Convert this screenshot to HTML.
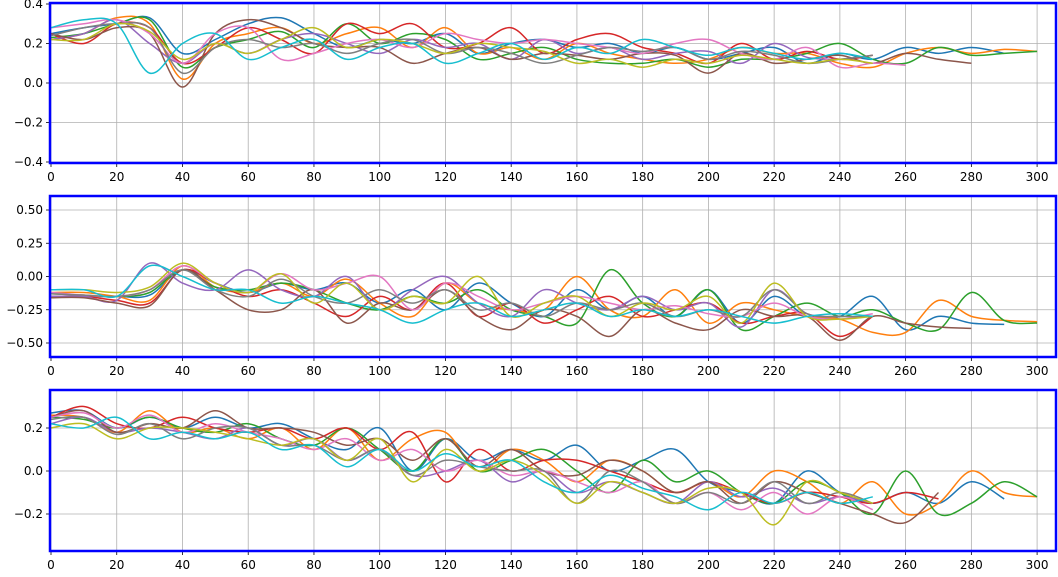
<!DOCTYPE html>
<html><head><meta charset="utf-8"><style>
body{margin:0;background:#fff;}
svg text{font-family:"DejaVu Sans","Liberation Sans",sans-serif;font-size:12px;fill:#000;}
</style></head><body>
<svg id="chart" width="1058" height="572" xmlns="http://www.w3.org/2000/svg"></svg>
<script>
const colors=["#1f77b4","#ff7f0e","#2ca02c","#d62728","#9467bd","#8c564b","#e377c2","#7f7f7f","#bcbd22","#17becf"];
const xTicks=[0,20,40,60,80,100,120,140,160,180,200,220,240,260,280,300];
const p1Ticks=[0.4,0.2,0.0,-0.2,-0.4];
const p2Ticks=[0.5,0.25,0,-0.25,-0.5];
const p3Ticks=[0.2,0.0,-0.2];
const p1Labels=["0.4","0.2","0.0","\u22120.2","\u22120.4"];
const p2Labels=["0.50","0.25","0.00","\u22120.25","\u22120.50"];
const p3Labels=["0.2","0.0","\u22120.2"];
const p1Series=[
[0.25,0.28,0.30,0.33,0.15,0.22,0.30,0.33,0.25,0.18,0.22,0.20,0.25,0.15,0.20,0.22,0.18,0.20,0.15,0.18,0.12,0.15,0.18,0.10,0.15,0.12,0.18,0.15,0.18,0.15],
[0.22,0.25,0.33,0.30,0.02,0.20,0.25,0.28,0.20,0.25,0.28,0.18,0.28,0.15,0.18,0.12,0.20,0.15,0.12,0.10,0.12,0.18,0.15,0.15,0.10,0.08,0.15,0.18,0.15,0.17,0.16],
[0.23,0.25,0.30,0.32,0.08,0.18,0.22,0.26,0.18,0.30,0.20,0.25,0.22,0.12,0.15,0.18,0.12,0.10,0.10,0.12,0.08,0.12,0.12,0.15,0.20,0.12,0.10,0.18,0.14,0.15,0.16],
[0.25,0.20,0.30,0.28,0.10,0.18,0.28,0.22,0.15,0.30,0.25,0.30,0.18,0.20,0.28,0.15,0.22,0.25,0.18,0.15,0.10,0.20,0.12,0.16,0.12,0.14],
[0.22,0.25,0.32,0.20,0.10,0.20,0.15,0.22,0.25,0.20,0.15,0.22,0.18,0.20,0.12,0.22,0.15,0.18,0.12,0.15,0.16,0.10,0.20,0.13,0.12],
[0.25,0.22,0.28,0.25,-0.02,0.25,0.32,0.28,0.20,0.18,0.18,0.10,0.15,0.18,0.12,0.15,0.14,0.12,0.15,0.14,0.05,0.15,0.10,0.12,0.14,0.10,0.15,0.12,0.10],
[0.28,0.30,0.32,0.25,0.10,0.25,0.28,0.12,0.15,0.20,0.22,0.18,0.25,0.22,0.20,0.22,0.20,0.18,0.15,0.20,0.22,0.15,0.12,0.18,0.08,0.10,0.09],
[0.24,0.28,0.30,0.28,0.05,0.18,0.22,0.18,0.20,0.15,0.20,0.22,0.15,0.18,0.15,0.10,0.14,0.18,0.16,0.18,0.12,0.16,0.14,0.10,0.12,0.14],
[0.22,0.22,0.30,0.26,0.12,0.20,0.15,0.22,0.28,0.18,0.22,0.20,0.15,0.20,0.18,0.16,0.10,0.12,0.08,0.12,0.10,0.14,0.12,0.10,0.12,0.10],
[0.28,0.32,0.30,0.05,0.20,0.25,0.12,0.18,0.22,0.12,0.18,0.20,0.10,0.15,0.20,0.12,0.18,0.15,0.22,0.18,0.14,0.18,0.15,0.12,0.15,0.12]];
const p2Series=[
[-0.15,-0.15,-0.15,-0.14,0.05,-0.05,-0.12,-0.05,-0.10,-0.05,-0.20,-0.10,-0.25,-0.05,-0.20,-0.30,-0.10,-0.25,-0.15,-0.30,-0.10,-0.35,-0.15,-0.30,-0.30,-0.15,-0.40,-0.30,-0.35,-0.36],
[-0.12,-0.12,-0.15,-0.18,0.08,-0.08,-0.12,-0.05,-0.15,-0.02,-0.20,-0.30,-0.05,-0.20,-0.25,-0.25,0.00,-0.25,-0.30,-0.10,-0.35,-0.20,-0.25,-0.30,-0.32,-0.42,-0.42,-0.18,-0.30,-0.33,-0.34],
[-0.13,-0.14,-0.15,-0.12,0.05,-0.08,-0.10,-0.05,-0.10,-0.20,-0.25,-0.15,-0.20,-0.10,-0.25,-0.30,-0.35,0.05,-0.20,-0.30,-0.10,-0.40,-0.30,-0.20,-0.30,-0.25,-0.35,-0.40,-0.12,-0.33,-0.35],
[-0.15,-0.15,-0.18,-0.20,0.05,-0.05,-0.15,-0.10,-0.20,-0.30,-0.15,-0.25,-0.05,-0.30,-0.20,-0.35,-0.25,-0.15,-0.30,-0.25,-0.20,-0.35,-0.30,-0.28,-0.45,-0.30],
[-0.15,-0.15,-0.18,0.10,-0.05,-0.10,0.05,-0.10,-0.15,0.00,-0.25,-0.10,0.00,-0.20,-0.30,-0.10,-0.20,-0.25,-0.15,-0.25,-0.20,-0.38,-0.10,-0.28,-0.30],
[-0.16,-0.16,-0.20,-0.22,0.05,-0.10,-0.25,-0.25,-0.10,-0.35,-0.20,-0.25,-0.10,-0.30,-0.40,-0.25,-0.30,-0.45,-0.25,-0.35,-0.40,-0.25,-0.30,-0.30,-0.48,-0.30,-0.35,-0.38,-0.39],
[-0.12,-0.14,-0.15,-0.10,0.08,-0.05,-0.12,0.02,-0.10,-0.05,0.00,-0.25,-0.05,-0.15,-0.25,-0.20,-0.15,-0.20,-0.25,-0.22,-0.28,-0.30,-0.20,-0.30,-0.32,-0.28],
[-0.13,-0.14,-0.15,-0.10,0.05,-0.10,-0.15,-0.02,-0.15,-0.20,-0.10,-0.20,-0.10,-0.25,-0.20,-0.30,-0.20,-0.25,-0.20,-0.30,-0.25,-0.30,-0.10,-0.28,-0.30,-0.30],
[-0.10,-0.10,-0.12,-0.08,0.10,-0.05,-0.12,0.02,-0.20,-0.05,-0.25,-0.15,-0.20,0.00,-0.30,-0.20,-0.15,-0.30,-0.20,-0.25,-0.15,-0.35,-0.05,-0.30,-0.32,-0.30],
[-0.10,-0.10,-0.15,0.08,0.00,-0.10,-0.10,-0.20,-0.15,-0.20,-0.25,-0.35,-0.25,-0.20,-0.30,-0.25,-0.20,-0.30,-0.25,-0.30,-0.25,-0.30,-0.35,-0.30,-0.28,-0.30]];
const p3Series=[
[0.27,0.28,0.20,0.25,0.20,0.25,0.20,0.22,0.15,0.10,0.20,0.00,0.15,0.05,0.10,0.05,0.12,0.00,0.05,0.10,-0.05,-0.10,-0.15,0.00,-0.10,-0.15,-0.10,-0.15,-0.05,-0.13],
[0.26,0.25,0.18,0.28,0.18,0.20,0.15,0.20,0.10,0.20,0.05,0.15,0.18,0.00,0.10,0.05,-0.05,0.05,0.00,-0.10,-0.05,-0.12,0.00,-0.05,-0.15,-0.05,-0.20,-0.15,0.00,-0.10,-0.12],
[0.25,0.24,0.20,0.25,0.20,0.18,0.22,0.15,0.12,0.20,0.10,0.00,0.15,0.00,0.05,0.10,0.00,-0.10,0.05,-0.05,0.00,-0.10,-0.15,-0.05,-0.10,-0.20,0.00,-0.20,-0.15,-0.05,-0.12],
[0.25,0.30,0.22,0.20,0.25,0.20,0.18,0.20,0.15,0.20,0.10,0.18,-0.05,0.10,0.00,0.05,0.05,0.00,-0.05,-0.10,-0.05,-0.10,-0.15,-0.10,-0.12,-0.15,-0.10,-0.13],
[0.22,0.25,0.18,0.20,0.18,0.15,0.20,0.12,0.15,0.05,0.10,-0.02,0.00,0.05,-0.05,0.00,-0.10,-0.05,-0.10,-0.15,-0.05,-0.12,-0.08,-0.15,-0.12,-0.15],
[0.25,0.28,0.18,0.22,0.20,0.28,0.20,0.20,0.18,0.12,0.15,0.05,0.15,0.02,0.10,0.00,-0.02,0.05,0.00,-0.10,-0.05,-0.15,-0.05,-0.10,-0.15,-0.20,-0.24,-0.10],
[0.25,0.27,0.20,0.26,0.18,0.22,0.18,0.15,0.10,0.15,0.05,0.10,0.00,0.05,-0.02,0.00,-0.05,-0.10,-0.05,-0.15,-0.10,-0.18,-0.10,-0.20,-0.12,-0.18],
[0.24,0.25,0.17,0.22,0.15,0.20,0.20,0.12,0.12,0.05,0.10,-0.02,0.05,0.02,0.00,0.00,-0.15,0.00,-0.05,-0.15,-0.10,-0.15,-0.05,-0.15,-0.10,-0.15],
[0.20,0.22,0.15,0.20,0.20,0.18,0.15,0.12,0.15,0.05,0.15,-0.05,0.10,0.00,0.05,-0.02,-0.15,-0.05,-0.10,-0.15,-0.08,-0.10,-0.25,-0.05,-0.10,-0.15],
[0.22,0.20,0.25,0.15,0.18,0.15,0.18,0.10,0.12,0.02,0.10,0.00,0.08,0.02,0.05,-0.05,-0.10,-0.02,-0.08,-0.12,-0.18,-0.10,-0.15,-0.10,-0.15,-0.12]];
const xStep=10;

const NS="http://www.w3.org/2000/svg";
const svg=document.getElementById('chart');
function mk(tag,attrs,parent){const e=document.createElementNS(NS,tag);for(const k in attrs)e.setAttribute(k,attrs[k]);(parent||svg).appendChild(e);return e;}
const X0=51,XS=3.287,FL=50,FR=1056;
const xScale=v=>X0+v*XS;
const panels=[
 {top:3,bot:163,y0:83,ys:197.5,ticks:p1Ticks,labels:p1Labels,series:p1Series,name:'top'},
 {top:196,bot:357,y0:276.5,ys:133,ticks:p2Ticks,labels:p2Labels,series:p2Series,name:'middle'},
 {top:390,bot:551,y0:471,ys:215,ticks:p3Ticks,labels:p3Labels,series:p3Series,name:'bottom'}];
function smoothPath(pts){
 let d=`M${pts[0][0]},${pts[0][1]}`;
 for(let i=0;i<pts.length-1;i++){
  const p0=pts[i-1]||pts[i],p1=pts[i],p2=pts[i+1],p3=pts[i+2]||p2;
  const c1=[p1[0]+(p2[0]-p0[0])/6,p1[1]+(p2[1]-p0[1])/6];
  const c2=[p2[0]-(p3[0]-p1[0])/6,p2[1]-(p3[1]-p1[1])/6];
  d+=` C${c1[0].toFixed(1)},${c1[1].toFixed(1)} ${c2[0].toFixed(1)},${c2[1].toFixed(1)} ${p2[0].toFixed(1)},${p2[1].toFixed(1)}`;
 }
 return d;
}
panels.forEach(p=>{
 const g=mk('g',{});
 
 
 const yScale=v=>p.y0-v*p.ys;
 const clipId='clip-'+p.name;
 const cp=mk('clipPath',{id:clipId},g);
 mk('rect',{x:FL,y:p.top,width:FR-FL,height:p.bot-p.top},cp);
 xTicks.forEach(t=>{
  const x=xScale(t);
  const l=mk('line',{x1:x,x2:x,y1:p.top,y2:p.bot,stroke:'#b0b0b0','stroke-width':0.8},g);
  
  
  mk('line',{x1:x,x2:x,y1:p.bot,y2:p.bot+4,stroke:'#000','stroke-width':0.8},g);
  const tx=mk('text',{x:x,y:p.bot+18,'text-anchor':'middle'},g);
  tx.textContent=t;
  
  
 });
 p.ticks.forEach((t,i)=>{
  const y=yScale(t);
  const l=mk('line',{x1:FL,x2:FR,y1:y,y2:y,stroke:'#b0b0b0','stroke-width':0.8},g);
  
  
  mk('line',{x1:FL-4,x2:FL,y1:y,y2:y,stroke:'#000','stroke-width':0.8},g);
  const tx=mk('text',{x:FL-7,y:y+4,'text-anchor':'end'},g);
  tx.textContent=p.labels[i];
  
  
 });
 const sg=mk('g',{'clip-path':`url(#${clipId})`},g);
 p.series.forEach((s,si)=>{
  const pts=s.map((v,i)=>[xScale(i*xStep),yScale(v)]);
  const path=mk('path',{d:smoothPath(pts),fill:'none',stroke:colors[si],'stroke-width':1.5},sg);
  
  
 });
 const fr=mk('rect',{x:FL,y:p.top,width:FR-FL,height:p.bot-p.top,fill:'none',stroke:'#0000ff','stroke-width':2.5},g);
 
 
});
</script>
</body></html>
